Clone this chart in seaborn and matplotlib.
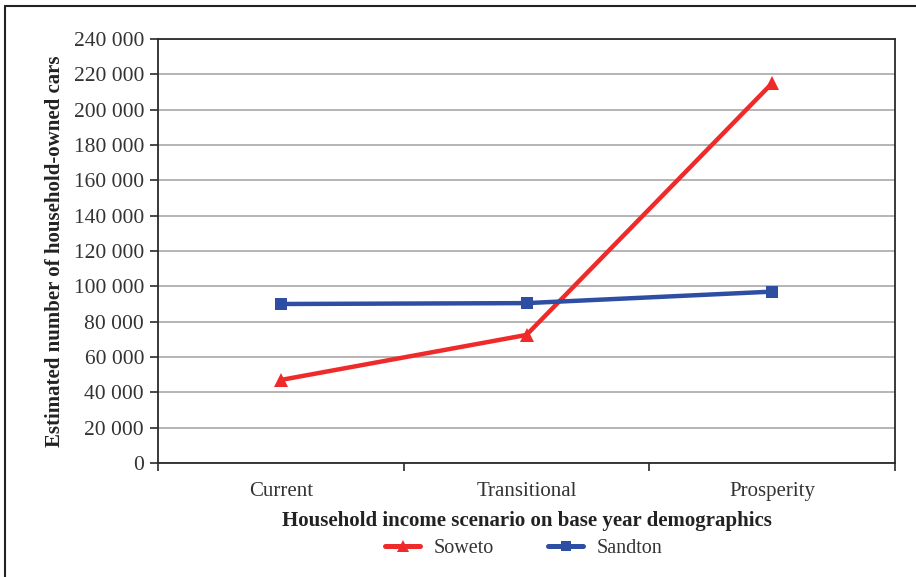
import matplotlib
matplotlib.use("Agg")
import matplotlib.pyplot as plt
import matplotlib.ticker as mticker
from matplotlib.lines import Line2D
import pandas as pd
import seaborn as sns

# Scenario categories and estimated car ownership per area
scenarios = ["Current", "Transitional", "Prosperity"]
soweto = [47000, 72500, 215000]
sandton = [90000, 90500, 97000]
series_names = ["Soweto", "Sandton"]
y_ticks = list(range(0, 240001, 20000))

df = pd.DataFrame({
    "scenario": scenarios * 2,
    "cars": soweto + sandton,
    "area": [series_names[0]] * 3 + [series_names[1]] * 3,
})
df["pos"] = df["scenario"].map({s: i for i, s in enumerate(scenarios)})

sns.set_theme(style="white")
plt.rcParams["font.family"] = ["Liberation Serif", "DejaVu Serif"]

palette = {"Soweto": "#ee2a2a", "Sandton": "#2e4ea3"}
markers = {"Soweto": "^", "Sandton": "s"}

fig = plt.figure(figsize=(9.16, 5.77), dpi=100)
ax = fig.add_axes([158 / 916, 1 - 463 / 577, (895 - 158) / 916, (463 - 39) / 577])

for name in series_names:
    sub = df[df["area"] == name]
    sns.lineplot(data=sub, x="pos", y="cars", ax=ax, color=palette[name],
                 marker=markers[name], markersize=10 if name == "Soweto" else 9,
                 markeredgewidth=0, linewidth=3.2, legend=False, zorder=3)

ax.set_xlim(-0.5, 2.5)
ax.set_ylim(0, 240000)
ax.set_yticks(y_ticks)
ax.yaxis.set_major_formatter(mticker.FuncFormatter(
    lambda v, _: f"{int(v):,}".replace(",", " ")))
ax.set_xticks(range(len(scenarios)))
ax.set_xticklabels(scenarios)
ax.set_xticks([-0.5, 0.5, 1.5, 2.5], minor=True)

ax.grid(axis="y", color="#b4b4b4", linewidth=1.4)
ax.set_axisbelow(True)
for side, sp in ax.spines.items():
    sp.set_visible(True)
    sp.set_color("#2a2a2a")
    sp.set_linewidth(1.3)

ax.tick_params(axis="x", which="major", length=0, pad=14, labelsize=15,
               labelcolor="#333333")
ax.tick_params(axis="x", which="minor", length=6, width=1.2, color="#2a2a2a",
               direction="out", bottom=True)
ax.tick_params(axis="y", length=6, width=1.2, color="#2a2a2a", direction="out",
               left=True, labelsize=15.5, labelcolor="#333333", pad=4)

ax.set_xlabel("Household income scenario on base year demographics",
              fontsize=15, fontweight="bold", color="#222222", labelpad=7)
ax.set_ylabel("Estimated number of household-owned cars",
              fontsize=15, fontweight="bold", color="#222222", labelpad=6)

handles = [Line2D([], [], color=palette[n], marker=markers[n], linewidth=3.6,
                  markersize=8 if n == "Soweto" else 7.5, markeredgewidth=0)
           for n in series_names]
fig.legend(handles, series_names, loc="center", bbox_to_anchor=(524 / 916, 1 - 548 / 577),
           ncol=2, frameon=False, fontsize=14.5, handlelength=1.7,
           columnspacing=2.7, handletextpad=0.7, labelcolor="#333333")

# Outer frame around the figure
fig.add_artist(Line2D([5 / 916, 5 / 916], [0, 1 - 6 / 577], transform=fig.transFigure,
                      color="#222222", linewidth=1.5))
fig.add_artist(Line2D([5 / 916, 1], [1 - 6 / 577, 1 - 6 / 577], transform=fig.transFigure,
                      color="#222222", linewidth=1.5))

fig.savefig("out.png", dpi=100)
